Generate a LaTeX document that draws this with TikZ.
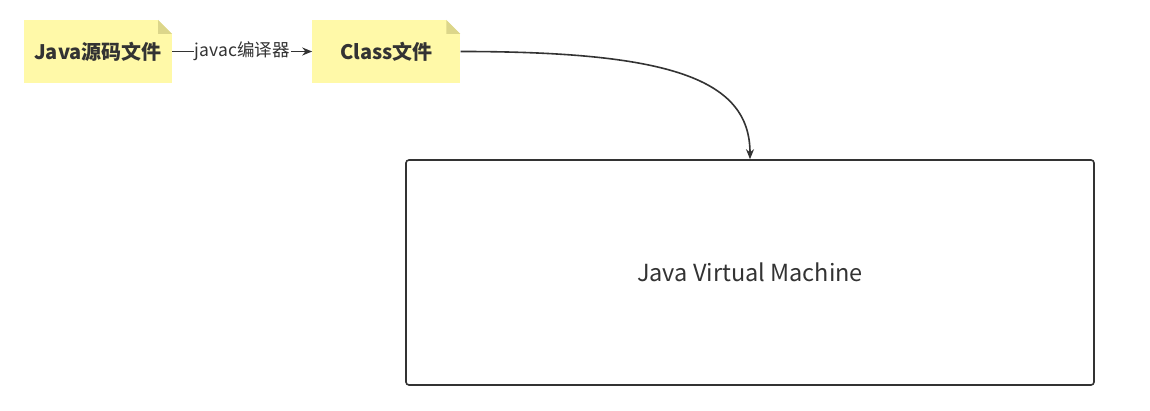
\documentclass[tikz,border=0pt]{standalone}
\usepackage{fontspec}
\setmainfont{Noto Sans CJK SC}
\usetikzlibrary{arrows.meta,positioning}
\definecolor{noteyellow}{HTML}{FFF9A8}
\definecolor{notefold}{HTML}{DCD68A}
\definecolor{inkgray}{HTML}{333333}
\tikzset{
  note/.style={fill=noteyellow, text=inkgray, minimum width=148pt,
    minimum height=63pt, inner sep=0pt, font=\fontsize{20}{24}\selectfont\bfseries,
    path picture={
      \fill[white] (path picture bounding box.north east) -- ++(-14pt,0)
        -- ++(14pt,-14pt) -- cycle;
      \fill[notefold] ([xshift=-14pt]path picture bounding box.north east)
        -- ++(0,-14pt) -- ++(14pt,0) -- cycle;}},
  conn/.style={draw=inkgray, line width=1.6pt, -{Stealth[length=10pt,width=8pt]}},
  edgelabel/.style={fill=white, text=inkgray, inner sep=1pt,
    font=\fontsize{17.5}{21}\selectfont}
}
\begin{document}
\begin{tikzpicture}[x=1pt,y=-1pt]
  \useasboundingbox (0,0) rectangle (1150,411);
  \node[note] (src) at (98,51.5) {Java源码文件};
  \node[note, right=140pt of src] (cls) {Class文件};
  \node[draw=inkgray, line width=1.6pt, rounded corners=3pt, minimum width=688pt,
    minimum height=225pt, text=inkgray, font=\fontsize{23.5}{28}\selectfont]
    (jvm) at (750,272.5) {Java Virtual Machine};
  % compile step
  \draw[conn] (src) -- node[edgelabel] {javac编译器} (cls);
  % load into the VM
  \draw[conn] (cls.east) .. controls +(210,0) and +(0,-80) .. (jvm.north);
\end{tikzpicture}
\end{document}
